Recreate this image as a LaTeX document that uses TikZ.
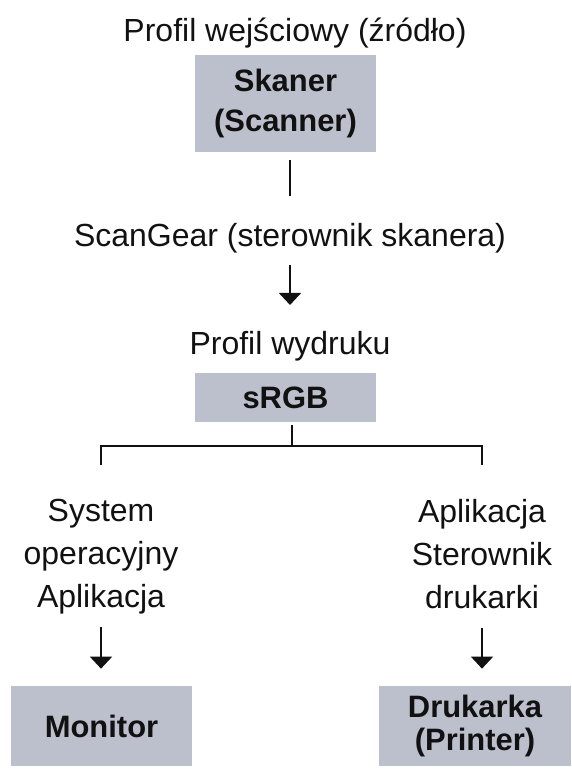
\documentclass[tikz,border=0pt]{standalone}
\usepackage{fontspec}
\setmainfont{Liberation Sans}
\usepackage{tikz}
\usetikzlibrary{calc,arrows.meta}
\usetikzlibrary{positioning}
\definecolor{pr-text}{HTML}{111111}
\definecolor{pr-box}{HTML}{BCBFCC}

\begin{document}
\begin{tikzpicture}[
    lbl/.style={font=\fontsize{18.2}{24.7}\selectfont, text=pr-text,
                inner sep=0pt, align=center},
    box/.style={fill=pr-box, minimum width=3.62cm, inner sep=0pt,
                align=center, text=pr-text,
                font=\fontsize{17.6}{22.8}\selectfont\bfseries},
    link/.style={draw=pr-text, line width=1.1pt},
    conn/.style={link, -{Triangle[length=0.24cm, width=0.44cm]}}
]
\useasboundingbox (0,0) rectangle (11.42,15.5);

% =========================================================================
% ZRODLO: SKANER
% =========================================================================
\node[lbl, anchor=base] (title) at (5.9, 14.66) {Profil wejściowy (źródło)};
\node[box, minimum height=1.94cm] (skaner) at (5.71, 13.43) {Skaner\\(Scanner)};

\node[lbl, anchor=base] (scangear) at (5.8, 10.56) {ScanGear (sterownik skanera)};
\draw[link, shorten <=0.16cm, shorten >=0.55cm] (skaner.south -| scangear) -- (scangear.north);

% =========================================================================
% PROFIL WYDRUKU
% =========================================================================
\node[lbl, anchor=base] (wydruk) at (5.8, 8.4) {Profil wydruku};
\draw[conn, shorten <=0.22cm, shorten >=0.53cm] (scangear.south) -- (wydruk.north);

\node[box, minimum height=0.98cm] (srgb) at (5.71, 7.55) {sRGB};

% =========================================================================
% ROZGALEZIENIE
% =========================================================================
\node[lbl, anchor=north] (system) at (2.02, 5.53) {System\\operacyjny\\Aplikacja};
\node[lbl, anchor=north] (drivers) at (9.64, 5.53) {Aplikacja\\Sterownik\\drukarki};

\coordinate (fork) at ([xshift=0.13cm, yshift=-0.48cm]srgb.south);
\draw[link] ([yshift=0.42cm]fork) -- (fork);
\draw[link] ([yshift=-0.38cm]system.north |- fork) -- (system.north |- fork)
    -- (drivers.north |- fork) -- ([yshift=-0.38cm]drivers.north |- fork);

% =========================================================================
% WYJSCIE: MONITOR I DRUKARKA
% =========================================================================
\node[box, minimum height=1.6cm] (monitor) at (2.03, 0.98) {Monitor};
\node[box, minimum width=3.84cm, minimum height=1.6cm] (drukarka) at (9.5, 0.98)
    {Drukarka\\[-4.5pt](Printer)};

\draw[conn, shorten <=0.25cm, shorten >=0.34cm] (system.south) -- (system.south |- monitor.north);
\draw[conn, shorten <=0.38cm, shorten >=0.34cm] (drivers.south) -- (drivers.south |- drukarka.north);

\end{tikzpicture}
\end{document}
